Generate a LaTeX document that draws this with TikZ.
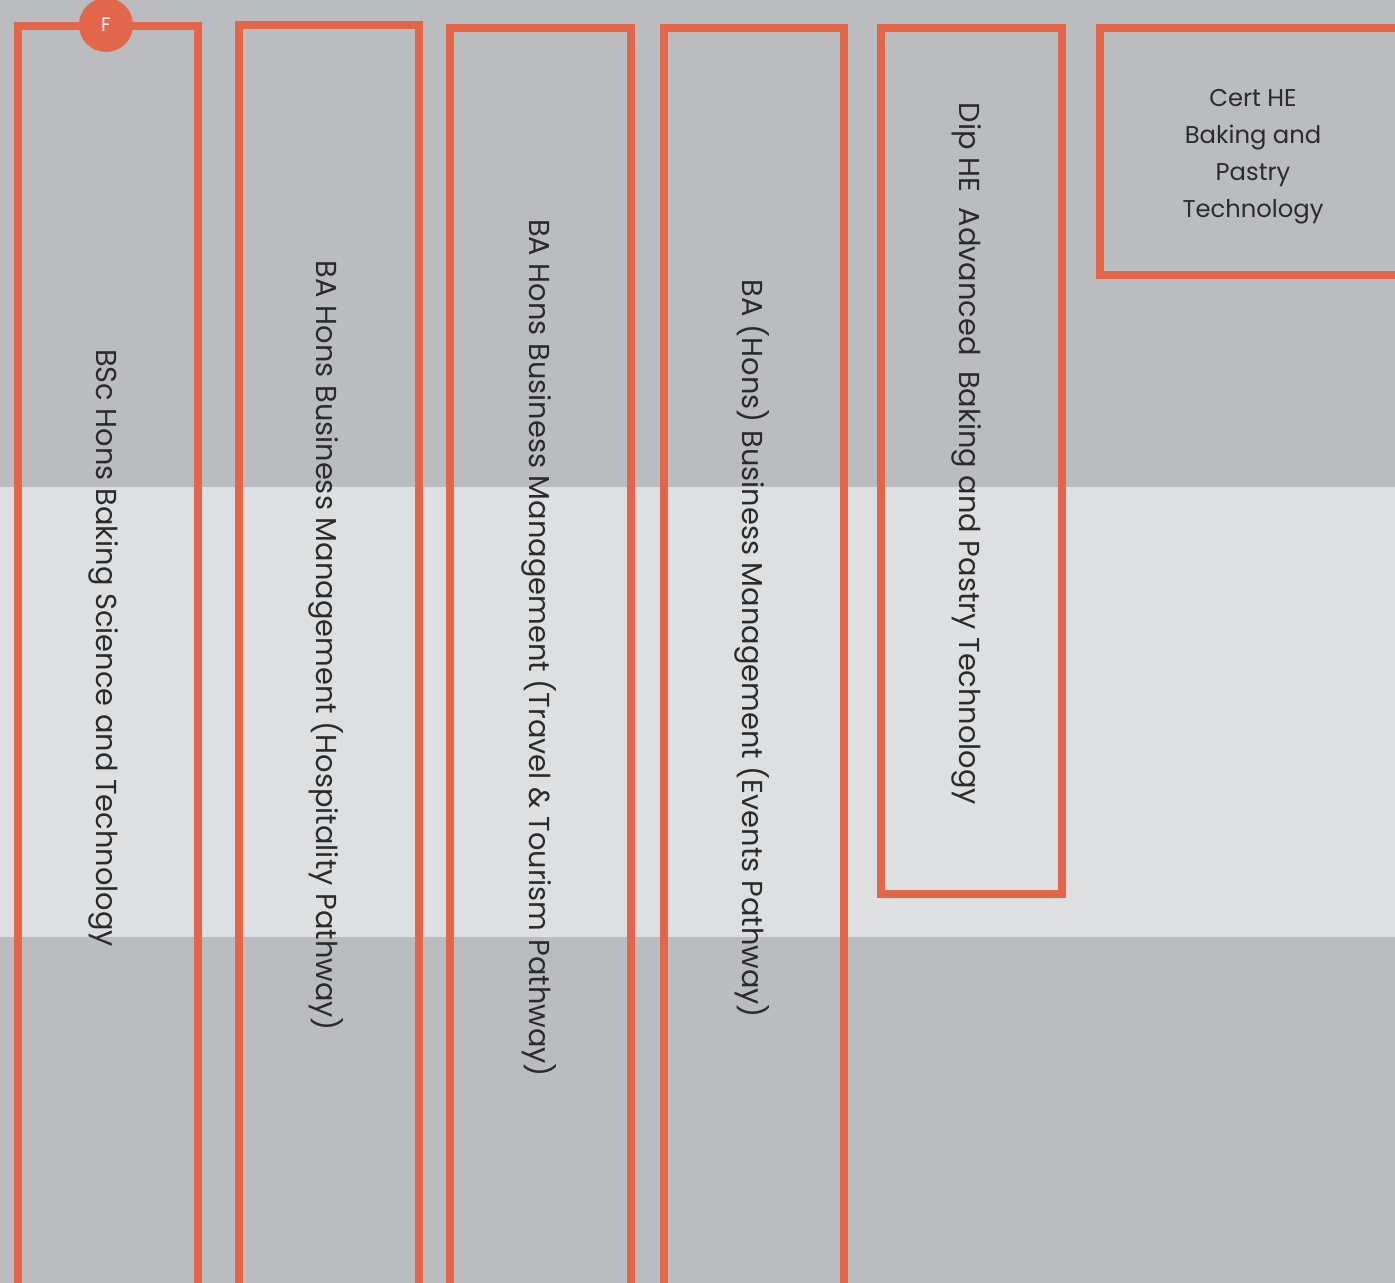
\documentclass[tikz,border=0pt]{standalone}
\usepackage{fontspec}
\setmainfont{Poppins}
\definecolor{brick}{HTML}{E2664A}
\definecolor{band}{HTML}{BBBCC0}
\definecolor{paleband}{HTML}{DEDFE1}
\definecolor{ink}{HTML}{2B2B2B}
\tikzset{
    frame/.style={draw=brick, line width=0.08cm},
    vlabel/.style={text=ink, rotate=-90, inner sep=0pt, font=\fontsize{8.2}{10}\selectfont},
    hlabel/.style={text=ink, align=center, inner sep=0pt, font=\fontsize{6.9}{10.55}\selectfont},
    badge/.style={circle, fill=brick, text=white, minimum size=0.54cm, inner sep=0pt, font=\fontsize{5.5}{6}\selectfont}
}
\begin{document}
\begin{tikzpicture}[x=0.01cm,y=-0.01cm]
    \useasboundingbox (0,0) rectangle (1395,1283);
    \clip (0,0) rectangle (1395,1283);
    \fill[band] (0,0) rectangle (1395,1283);
    \fill[paleband] (0,487) rectangle (1395,937);

    \draw[frame] (18,1320) -- (18,26) -- (198,26) -- (198,1320);
    \draw[frame] (239,1320) -- (239,25) -- (419,25) -- (419,1320);
    \draw[frame] (450,1320) -- (450,28) -- (631,28) -- (631,1320);
    \draw[frame] (664,1320) -- (664,28) -- (844,28) -- (844,1320);
    \draw[frame] (881,28) rectangle (1062,894);
    \draw[frame] (1420,275) -- (1100,275) -- (1100,28) -- (1420,28);

    \node[vlabel] (bsc) at (104,648) {BSc Hons Baking Science and Technology};
    \node[vlabel] (hosp) at (326,646) {BA Hons Business Management (Hospitality Pathway)};
    \node[vlabel] (travel) at (539,648) {BA Hons Business Management (Travel \& Tourism Pathway)};
    \node[vlabel] (events) at (752,649) {BA (Hons) Business Management (Events Pathway)};
    \node[vlabel] (dip) at (967,454) {Dip HE\ \ Advanced\ \ Baking and Pastry Technology};
    \node[hlabel] (cert) at (1253,157) {Cert HE\\Baking and\\Pastry\\Technology};

    \node[badge] (found) at (106,25) {F};
\end{tikzpicture}
\end{document}
